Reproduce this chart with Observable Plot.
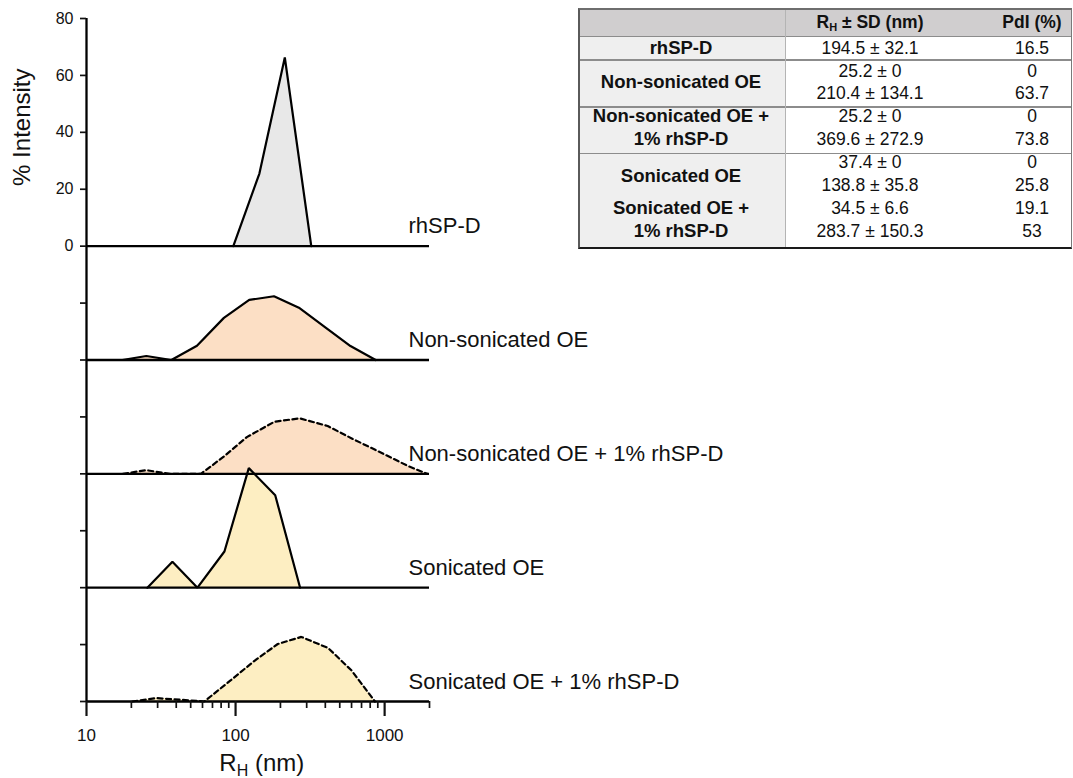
<!DOCTYPE html>
<html><head><meta charset="utf-8">
<script src="https://cdn.jsdelivr.net/npm/d3@7"></script>
<script src="https://cdn.jsdelivr.net/npm/@observablehq/plot@0.6"></script>
<style>
html,body{margin:0;padding:0;background:#fff;overflow:hidden;width:1073px;height:778px;}
body{font-family:"Liberation Sans",Arial,sans-serif;position:relative;}
#chart{position:absolute;left:0;top:0;z-index:1;}
#tbl{position:absolute;left:578px;top:8px;width:494px;height:241px;box-sizing:border-box;z-index:2;
  border-top:2px solid #6e6e6e;border-left:2px solid #5a5a5a;border-right:1.5px solid #7a7a7a;border-bottom:2px solid #1a1a1a;background:#fff;overflow:hidden;}
#tbl div{position:absolute;}
.cell{white-space:nowrap;font-size:17.5px;line-height:22px;color:#111;transform:translate(-50%,-50%);}
.b{font-weight:bold;font-size:18.5px;}
.h{font-weight:bold;font-size:17.5px;}
</style></head><body>
<div id="chart"></div><div id="tbl"></div>
<script>
// ---------- data ----------
const seriesNames = ["rhSP-D", "Non-sonicated OE", "Non-sonicated OE + 1% rhSP-D", "Sonicated OE", "Sonicated OE + 1% rhSP-D"];
const rhspdX = [96.6, 144.5, 214, 322];
const rhspdY = [0, 25.5, 66.3, 0];
const nonSonX = [17.4, 25.2, 37.1, 55.1, 83.5, 123.5, 181, 266, 400, 590, 871];
const nonSonY = [0, 1.4, 0, 5.0, 14.8, 21.1, 22.4, 18.4, 11.5, 4.9, 0];
const nonSonSpdX = [17.6, 25.1, 36, 58.6, 84, 119, 182, 269, 415, 620, 950, 1440, 1930];
const nonSonSpdY = [0, 1.3, 0, 0, 6.2, 12.9, 18.3, 19.5, 16.8, 12.1, 7.4, 2.7, 0];
const sonX = [25.6, 37.7, 55.5, 84.2, 122.7, 184.5, 271];
const sonY = [0, 9.1, 0, 12.7, 42.0, 32.5, 0];
const sonSpdX = [20.3, 29.2, 43, 61.7, 93, 134, 192, 276, 418, 600, 861];
const sonSpdY = [0, 1.2, 0.6, 0, 7.5, 14.3, 20.2, 22.7, 18.8, 10.9, 0];
const xMajorTicks = [10, 100, 1000];
const xMinorTicks = [20, 30, 40, 50, 60, 70, 80, 90, 200, 300, 400, 500, 600, 700, 800, 900, 2000];
const yTickLabels = [0, 20, 40, 60, 80];

// table data
const tblGroups = ["rhSP-D", "Non-sonicated OE", "Non-sonicated OE +\n1% rhSP-D", "Sonicated OE", "Sonicated OE +\n1% rhSP-D"];
const tblRH = [["194.5 ± 32.1"], ["25.2 ± 0", "210.4 ± 134.1"], ["25.2 ± 0", "369.6 ± 272.9"], ["37.4 ± 0", "138.8 ± 35.8"], ["34.5 ± 6.6", "283.7 ± 150.3"]];
const tblPdI = [["16.5"], ["0", "63.7"], ["0", "73.8"], ["0", "25.8"], ["19.1", "53"]];

// ---------- styles ----------
const fills = ["#e8e8e8", "#fcdfc5", "#fcdfc5", "#fdeec2", "#fdeec2"];
const dashed = [false, false, true, false, true];
const seriesX = [rhspdX, nonSonX, nonSonSpdX, sonX, sonSpdX];
const seriesY = [rhspdY, nonSonY, nonSonSpdY, sonY, sonSpdY];
const panelStep = 40;
const nP = seriesNames.length;
const baseOf = i => (nP - 1 - i) * panelStep;

const rows = [];
seriesNames.forEach((name, i) => seriesX[i].forEach((x, j) => rows.push({name, i, x, v: seriesY[i][j], base: baseOf(i)})));
const bases = seriesNames.map((n, i) => baseOf(i));
const labelRows = seriesNames.map((n, i) => ({n, base: baseOf(i)}));

const FONT = "Liberation Sans, Arial, sans-serif";
const marks = [];
seriesNames.forEach((n, i) => {
  marks.push(Plot.areaY(rows.filter(r => r.i === i), {x: "x", y1: "base", y2: d => d.base + d.v, fill: fills[i]}));
});
marks.push(Plot.ruleY(bases, {stroke: "#000", strokeWidth: 2.3}));
marks.push(Plot.ruleX([10], {y1: 0, y2: 240, stroke: "#000", strokeWidth: 2.3}));
seriesNames.forEach((n, i) => {
  marks.push(Plot.line(rows.filter(r => r.i === i), {x: "x", y: d => d.base + d.v, stroke: "#000", strokeWidth: 2.2,
    strokeDasharray: dashed[i] ? "5,3.5" : null, strokeLinejoin: "miter"}));
});
marks.push(Plot.axisY({ticks: yTickLabels.map(t => t + baseOf(0)), tickFormat: d => String(d - baseOf(0)), tickSize: 6, tickPadding: 7, fontSize: 16, strokeWidth: 1.7, label: null}));
marks.push(Plot.axisY({ticks: d3.range(0, baseOf(0), 20), tickFormat: () => "", tickSize: 6, strokeWidth: 1.7, label: null}));
marks.push(Plot.axisX({ticks: xMajorTicks, tickFormat: d => String(d), tickSize: 15, tickPadding: 12, fontSize: 17, strokeWidth: 2.2, label: null}));
marks.push(Plot.axisX({ticks: xMinorTicks, tickFormat: () => "", tickSize: 7, strokeWidth: 1.7, label: null}));
marks.push(Plot.text(labelRows, {x: () => 2000, y: "base", text: "n", textAnchor: "start", dx: -21, dy: -13, lineAnchor: "bottom", fontSize: 22, fill: "#111"}));
marks.push(Plot.text(["% Intensity"], {frameAnchor: "left", y: () => 201.8, rotate: -90, dx: -64, fontSize: 24, textAnchor: "middle", lineAnchor: "middle", fill: "#111"}));
marks.push(Plot.text(["RH (nm)"], {x: () => 150, frameAnchor: "bottom", dx: 0, dy: 69, fontSize: 24, textAnchor: "middle", lineAnchor: "bottom", fill: "#111"}));

const svg = Plot.plot({
  width: 1073, height: 778,
  marginLeft: 86, marginRight: 644, marginTop: 18, marginBottom: 77,
  style: {fontFamily: FONT, color: "#111", background: "transparent", overflow: "visible"},
  x: {type: "log", domain: [10, 2000]},
  y: {domain: [0, 240]},
  marks
});
d3.select(svg).selectAll("text").filter(function(){ return this.textContent === "RH (nm)"; }).each(function(){
  const t = d3.select(this);
  t.text(null);
  t.append("tspan").text("R");
  t.append("tspan").attr("font-size", 16).attr("dy", 5).text("H");
  t.append("tspan").attr("dy", -5).text(" (nm)");
});
document.getElementById("chart").appendChild(svg);

// ---------- table ----------
const tbl = document.getElementById("tbl");
const ox = 580, oy = 10; // inner origin (after borders)
function addDiv(style, cls, html) {
  const d = document.createElement("div");
  if (cls) d.className = cls;
  Object.assign(d.style, style);
  if (html != null) d.innerHTML = html;
  tbl.appendChild(d);
  return d;
}
const colX = [681, 870, 1032];
const divX = 785;
addDiv({left: "0px", top: "0px", width: "500px", height: (36 - oy) + "px", background: "#d0cecf"});
addDiv({left: "0px", top: (36 - oy) + "px", width: (divX - ox) + "px", height: "240px", background: "#efefef"});
const groupLines = [36, 59.5, 106.7, 153.3];
groupLines.forEach(y => addDiv({left: "0px", top: (y - oy - 0.5) + "px", width: "500px", height: "1.5px", background: "#8c8c8c"}));
addDiv({left: (divX - ox) + "px", top: "0px", width: "1px", height: "240px", background: "#b4b4b4"});
addDiv({left: (colX[1] - ox) + "px", top: (22 - oy) + "px"}, "cell h", "R<sub style='font-size:11px;vertical-align:-3px;line-height:0'>H</sub> ± SD (nm)");
addDiv({left: (colX[2] - ox) + "px", top: (22 - oy) + "px"}, "cell h", "PdI (%)");
const lineY = [47.5, 70.5, 93, 116, 139, 161.5, 184.5, 207.5, 231];
let li = 0;
tblGroups.forEach((g, gi) => {
  const n = tblRH[gi].length;
  const ys = lineY.slice(li, li + n);
  const labLines = g.split("\n");
  let labYs;
  if (labLines.length === n) labYs = ys;
  else labYs = [gi === 3 ? (ys[0] + ys[n - 1]) / 2 + 3 : (ys[0] + ys[n - 1]) / 2];
  labLines.forEach((t, k) => addDiv({left: (colX[0] - ox) + "px", top: (labYs[k] - oy) + "px"}, "cell b", t));
  tblRH[gi].forEach((t, k) => addDiv({left: (colX[1] - ox) + "px", top: (ys[k] - oy) + "px"}, "cell", t));
  tblPdI[gi].forEach((t, k) => addDiv({left: (colX[2] - ox) + "px", top: (ys[k] - oy) + "px"}, "cell", t));
  li += n;
});
</script>
</body></html>
